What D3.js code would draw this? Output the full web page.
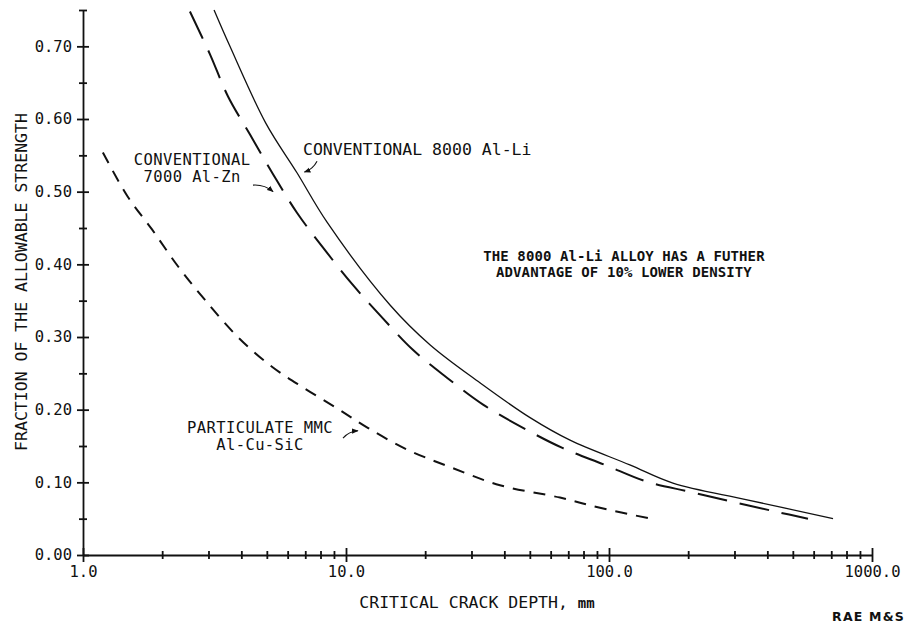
<!DOCTYPE html>
<html>
<head>
<meta charset="utf-8">
<script src="https://cdn.jsdelivr.net/npm/d3@7"></script>
<style>
  html, body { margin: 0; padding: 0; background: #fff; }
  svg { display: block; }
  .axis path, .axis line { stroke: #111; stroke-width: 1.8; }
  .axis text { font-family: "DejaVu Sans Mono", monospace; font-size: 15.5px; fill: #111; }
  .lbl { font-family: "DejaVu Sans Mono", monospace; fill: #111; }
</style>
</head>
<body>
<svg id="chart" width="912" height="635"></svg>
<script>
// 8000 Al-Li (solid)
const alLiDepth = [3.15, 3.62, 4.96, 6.51, 8.47, 14.7, 20.9, 32.3, 50.1, 71.1, 120, 175, 335, 711];
const alLiFraction = [0.75, 0.70, 0.594, 0.526, 0.458, 0.344, 0.289, 0.237, 0.189, 0.158, 0.124, 0.099, 0.076, 0.050];

// 7000 Al-Zn (long dash)
const alZnDepth = [2.55, 3.04, 3.56, 4.31, 5.28, 6.51, 8.18, 10.6, 13.7, 18.0, 24.2, 33.2, 47.1, 66.8, 96.6, 139, 203, 296, 439, 571];
const alZnFraction = [0.748, 0.689, 0.631, 0.579, 0.524, 0.471, 0.423, 0.372, 0.327, 0.282, 0.244, 0.207, 0.175, 0.147, 0.124, 0.101, 0.087, 0.073, 0.059, 0.050];

// particulate MMC Al-Cu-SiC (short dash)
const mmcDepth = [1.19, 1.48, 1.83, 2.30, 2.91, 3.88, 5.23, 6.98, 9.33, 12.1, 17.1, 24.9, 38.5, 65.1, 92.4, 144];
const mmcFraction = [0.554, 0.493, 0.448, 0.397, 0.351, 0.300, 0.259, 0.229, 0.201, 0.175, 0.145, 0.121, 0.096, 0.079, 0.065, 0.050];

const xMajorTicks = [1, 10, 100, 1000];
const yMajorTicks = [0, 0.1, 0.2, 0.3, 0.4, 0.5, 0.6, 0.7];

const svg = d3.select("#chart");
const x = d3.scaleLog().domain([1, 1000]).range([83, 872]);
const y = d3.scaleLinear().domain([0, 0.75]).range([555, 10]);

// minor ticks
const xTicks = [];
xMajorTicks.slice(0, 3).forEach((d) => {
  for (let k = 1; k < 10; k += 1) xTicks.push(d * k);
});
xTicks.push(1000);
const yTicks = d3.range(0, 16).map((i) => i * 0.05);

const isMajorY = (d) => yMajorTicks.some((m) => Math.abs(m - d) < 1e-9);
const isMajorX = (d) => xMajorTicks.some((m) => Math.abs(m - d) < 1e-9);

const xAxisG = svg.append("g")
  .attr("class", "axis")
  .attr("transform", `translate(0,${y(0)})`)
  .call(d3.axisBottom(x)
    .tickValues(xTicks)
    .tickSizeInner(5)
    .tickSizeOuter(0)
    .tickPadding(6)
    .tickFormat((d) => (isMajorX(d) ? d3.format(".1f")(d) : "")));
xAxisG.selectAll(".tick line")
  .attr("y1", (d) => (isMajorX(d) ? -7 : -4))
  .attr("y2", (d) => (isMajorX(d) ? 7 : 4));

const yAxisG = svg.append("g")
  .attr("class", "axis")
  .attr("transform", `translate(${x(1)},0)`)
  .call(d3.axisLeft(y)
    .tickValues(yTicks)
    .tickSizeInner(5)
    .tickSizeOuter(0)
    .tickPadding(6)
    .tickFormat((d) => (isMajorY(d) ? d3.format(".2f")(d) : "")));
yAxisG.selectAll(".tick line")
  .attr("x1", (d) => (isMajorY(d) ? -6 : -4))
  .attr("x2", (d) => (isMajorY(d) ? 6 : 4));

// axis titles
svg.append("text")
  .attr("class", "lbl")
  .style("font-size", "16.5px")
  .attr("x", 477)
  .attr("y", 608)
  .attr("text-anchor", "middle")
  .text("CRITICAL CRACK DEPTH,  ")
  .append("tspan")
  .style("font-weight", "bold")
  .style("font-size", "14px")
  .text("mm");

svg.append("text")
  .attr("class", "lbl")
  .style("font-size", "16.5px")
  .attr("transform", "translate(27,282) rotate(-90)")
  .attr("text-anchor", "middle")
  .text("FRACTION OF THE ALLOWABLE STRENGTH");

svg.append("text")
  .attr("x", 905)
  .attr("y", 621)
  .attr("text-anchor", "end")
  .style("font-family", "DejaVu Sans, sans-serif")
  .style("font-weight", "bold")
  .style("font-size", "12.5px")
  .attr("letter-spacing", "1.2")
  .attr("fill", "#111")
  .text("RAE M&S");

// curves
const line = d3.line()
  .x((d) => x(d[0]))
  .y((d) => y(d[1]))
  .curve(d3.curveCatmullRom.alpha(0.5));

const series = [
  { depth: alLiDepth, frac: alLiFraction, width: 1.3, dash: null },
  { depth: alZnDepth, frac: alZnFraction, width: 2, dash: "30,13" },
  { depth: mmcDepth, frac: mmcFraction, width: 2, dash: "12,9" },
];

series.forEach((s) => {
  svg.append("path")
    .datum(d3.zip(s.depth, s.frac))
    .attr("d", line)
    .attr("fill", "none")
    .attr("stroke", "#111")
    .attr("stroke-width", s.width)
    .attr("stroke-dasharray", s.dash);
});

// annotations (anchored in data space); each line is its own text
const notes = [
  { lines: ["CONVENTIONAL 8000 Al-Li"], at: [6.86, 0.55], anchor: "start", size: 16.5, ls: 0, gap: 0, bold: false },
  { lines: ["CONVENTIONAL", "7000 Al-Zn"], at: [2.6, 0.537], anchor: "middle", size: 15.5, ls: 0.4, gap: 17.5, bold: false },
  { lines: ["PARTICULATE MMC", "Al-Cu-SiC"], at: [4.71, 0.168], anchor: "middle", size: 15.5, ls: 0.4, gap: 17.5, bold: false },
  { lines: ["THE 8000 Al-Li ALLOY HAS A FUTHER", "ADVANTAGE OF 10% LOWER DENSITY"], at: [114, 0.404], anchor: "middle", size: 14, ls: 0.1, gap: 16, bold: true },
];

notes.forEach((n) => {
  n.lines.forEach((l, i) => {
    svg.append("text")
      .attr("class", "lbl")
      .attr("text-anchor", n.anchor)
      .style("font-size", n.size + "px")
      .style("letter-spacing", n.ls + "px")
      .style("font-weight", n.bold ? "bold" : "normal")
      .attr("x", x(n.at[0]))
      .attr("y", y(n.at[1]) + i * n.gap)
      .text(l);
  });
});

// pointer arrows: [from, to] in data space
const arrows = [
  [[7.76, 0.542], [6.95, 0.527]],
  [[4.43, 0.509], [5.28, 0.5]],
  [[9.74, 0.161], [11.1, 0.171]],
];

svg.append("defs").append("marker")
  .attr("id", "head")
  .attr("viewBox", "0 0 10 10")
  .attr("refX", 9)
  .attr("refY", 5)
  .attr("markerWidth", 6)
  .attr("markerHeight", 6)
  .attr("orient", "auto")
  .append("path")
  .attr("d", "M0,1 L10,5 L0,9 Z")
  .attr("fill", "#111");

arrows.forEach(([a, b]) => {
  const x0 = x(a[0]), y0 = y(a[1]), x1 = x(b[0]), y1 = y(b[1]);
  const mx = (x0 + x1) / 2 + (y1 - y0) * 0.2;
  const my = (y0 + y1) / 2 - (x1 - x0) * 0.2;
  svg.append("path")
    .attr("d", `M${x0},${y0} Q${mx},${my} ${x1},${y1}`)
    .attr("fill", "none")
    .attr("stroke", "#111")
    .attr("stroke-width", 1.1)
    .attr("marker-end", "url(#head)");
});
</script>
</body>
</html>
